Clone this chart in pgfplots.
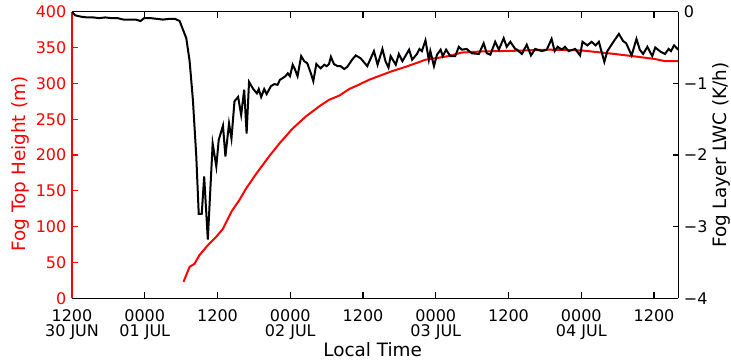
\documentclass[border=0pt]{standalone}
\usepackage{fontspec}
\setmainfont{DejaVu Sans}
\usepackage{pgfplots}
\pgfplotsset{compat=1.18}
\pgfplotstableread{
h v
0 0
0.5 -0.05
1.5 -0.07
2.5 -0.08
3.5 -0.08
4.5 -0.09
5.5 -0.08
6.5 -0.09
7.5 -0.09
8.5 -0.11
9.5 -0.11
10.5 -0.11
11.3 -0.13
11.9 -0.09
13 -0.09
14 -0.10
15 -0.11
16 -0.10
17 -0.10
17.75 -0.13
18.85 -0.37
19.4 -0.69
19.94 -1.23
20.5 -2.02
20.9 -2.82
21.4 -2.82
21.8 -2.30
22.4 -3.18
23.2 -1.84
23.8 -2.16
24.2 -1.79
24.9 -1.59
25.3 -2.02
25.9 -1.56
26.3 -1.77
26.8 -1.25
27.4 -1.19
27.9 -1.44
28.4 -1.09
28.8 -1.70
29.2 -0.98
29.9 -1.08
30.5 -1.14
30.8 -1.08
31.2 -1.19
31.7 -1.08
32.1 -1.15
32.8 -1.04
33.4 -1.01
33.9 -1.02
34.3 -0.95
34.7 -0.93
35.2 -0.90
35.6 -0.86
35.95 -0.90
36.4 -0.74
36.8 -0.81
37.2 -0.90
37.8 -0.62
38.3 -0.69
38.8 -0.72
39.4 -0.86
39.8 -0.97
40.3 -0.73
41.0 -0.79
41.6 -0.74
42.0 -0.76
42.4 -0.73
42.7 -0.63
43.2 -0.73
43.8 -0.76
44.3 -0.76
44.9 -0.80
45.4 -0.77
46.2 -0.67
46.8 -0.61
47.6 -0.65
48.7 -0.76
49.8 -0.55
50.4 -0.74
51.2 -0.52
51.7 -0.69
52.2 -0.78
52.55 -0.62
53.4 -0.74
53.9 -0.59
54.5 -0.69
55.6 -0.53
56.1 -0.67
56.9 -0.59
57.3 -0.52
57.7 -0.55
58.3 -0.40
58.85 -0.67
59.1 -0.55
59.7 -0.76
60.2 -0.60
60.8 -0.53
61.15 -0.62
61.7 -0.53
62.4 -0.62
63.2 -0.62
63.8 -0.49
64.3 -0.53
65.1 -0.52
65.95 -0.58
67.1 -0.59
67.9 -0.44
68.4 -0.58
69.0 -0.60
69.8 -0.42
70.4 -0.53
71.2 -0.37
71.7 -0.49
72.3 -0.42
73.1 -0.52
73.4 -0.53
74.2 -0.59
75.0 -0.46
75.7 -0.61
76.4 -0.52
77.5 -0.55
78.3 -0.53
79.1 -0.38
79.6 -0.55
80.1 -0.49
80.8 -0.53
81.3 -0.49
81.9 -0.55
83.0 -0.52
83.8 -0.61
84.2 -0.42
85.0 -0.47
85.7 -0.42
86.35 -0.47
86.9 -0.42
87.8 -0.70
88.3 -0.55
89.3 -0.42
90.2 -0.31
90.9 -0.41
91.4 -0.44
92.3 -0.61
93.1 -0.38
93.65 -0.53
94.2 -0.59
94.9 -0.49
95.7 -0.62
96.2 -0.50
97.1 -0.56
97.8 -0.59
98.4 -0.52
98.8 -0.55
99.3 -0.47
100 -0.53
}\lwc
\pgfplotstableread{
h v
18.4 23
19.4 44
20.2 48
21.0 60
22.4 74
23.8 86
24.9 97
26.3 121
27.6 137
28.7 153
30.4 174
32.5 198
34.2 216
36.4 237
38.6 254
40.8 268
42.4 277
44.1 283
45.7 292
47.3 298
49.0 305
51.2 312
52.8 317
55.0 323
56.7 328
58.3 333
59.9 335
62.1 338
64.3 343
67.6 344.5
73.1 345.5
78.6 347
84.0 346
87.3 343
89.5 341
93.4 337
96.1 334
97.8 331
100 331
}\fth
\begin{document}
\begin{tikzpicture}
\pgfplotsset{
  every axis/.append style={
    scale only axis, width=606.3bp, height=286.6bp,
    xmin=0, xmax=100,
    tick align=inside,
    major tick length=6.5bp,
    line width=1.3bp,
    tick label style={font=\fontsize{16bp}{15bp}\selectfont},
    /pgf/number format/assume math mode=true,
  },
}
\begin{axis}[
  name=main,
  axis x line=box,
  axis y line*=left,
  x axis line style={-, black},
  y axis line style={-, red},
  ymin=0, ymax=400,
  ytick={0,50,...,400},
  ytick pos=left,
  y tick style={red, line width=1.2bp},
  x tick style={black, line width=1.2bp},
  yticklabel style={red, anchor=east, inner sep=0pt, xshift=-5bp},
  xtick={0,12,...,96},
  xtick pos=both,
  xticklabels={{1200\\30 JUN},{0000\\01 JUL},1200,{0000\\02 JUL},1200,{0000\\03 JUL},1200,{0000\\04 JUL},1200},
  xticklabel style={align=center, anchor=north, inner sep=0pt, yshift=-11bp},
  ylabel={Fog Top Height (m)},
  ylabel style={red, font=\fontsize{18.4bp}{21bp}\selectfont, at={([xshift=-51.5bp,yshift=-9bp]axis description cs:0,0.5)}, anchor=center},
  xlabel={Local Time},
  xlabel style={font=\fontsize{18.4bp}{21bp}\selectfont, at={([xshift=-2.5bp,yshift=-57.7bp]axis description cs:0.5,0)}, anchor=base},
]
\addplot[red, line width=2bp, no markers] table[x=h, y=v] {\fth};
\end{axis}
\begin{axis}[
  axis x line=none,
  axis y line*=right,
  y axis line style={-, black},
  ymin=-4, ymax=0,
  ytick={-4,-3,-2,-1,0},
  yticklabels={−4,−3,−2,−1,0},
  y tick style={black, line width=1.2bp},
  major tick length=5bp,
  yticklabel style={anchor=west, inner sep=0pt, xshift=5bp},
  ylabel={Fog Layer LWC (K/h)},
  ylabel style={font=\fontsize{18.4bp}{21bp}\selectfont, at={([xshift=43.4bp]axis description cs:1,0.5)}, anchor=center},
]
\addplot[black, line width=2bp, no markers] table[x=h, y=v] {\lwc};
\end{axis}
\pgfresetboundingbox
\path ([xshift=-72bp,yshift=-64.7bp]main.south west) rectangle ([xshift=52.7bp,yshift=11.7bp]main.north east);
\end{tikzpicture}
\end{document}
